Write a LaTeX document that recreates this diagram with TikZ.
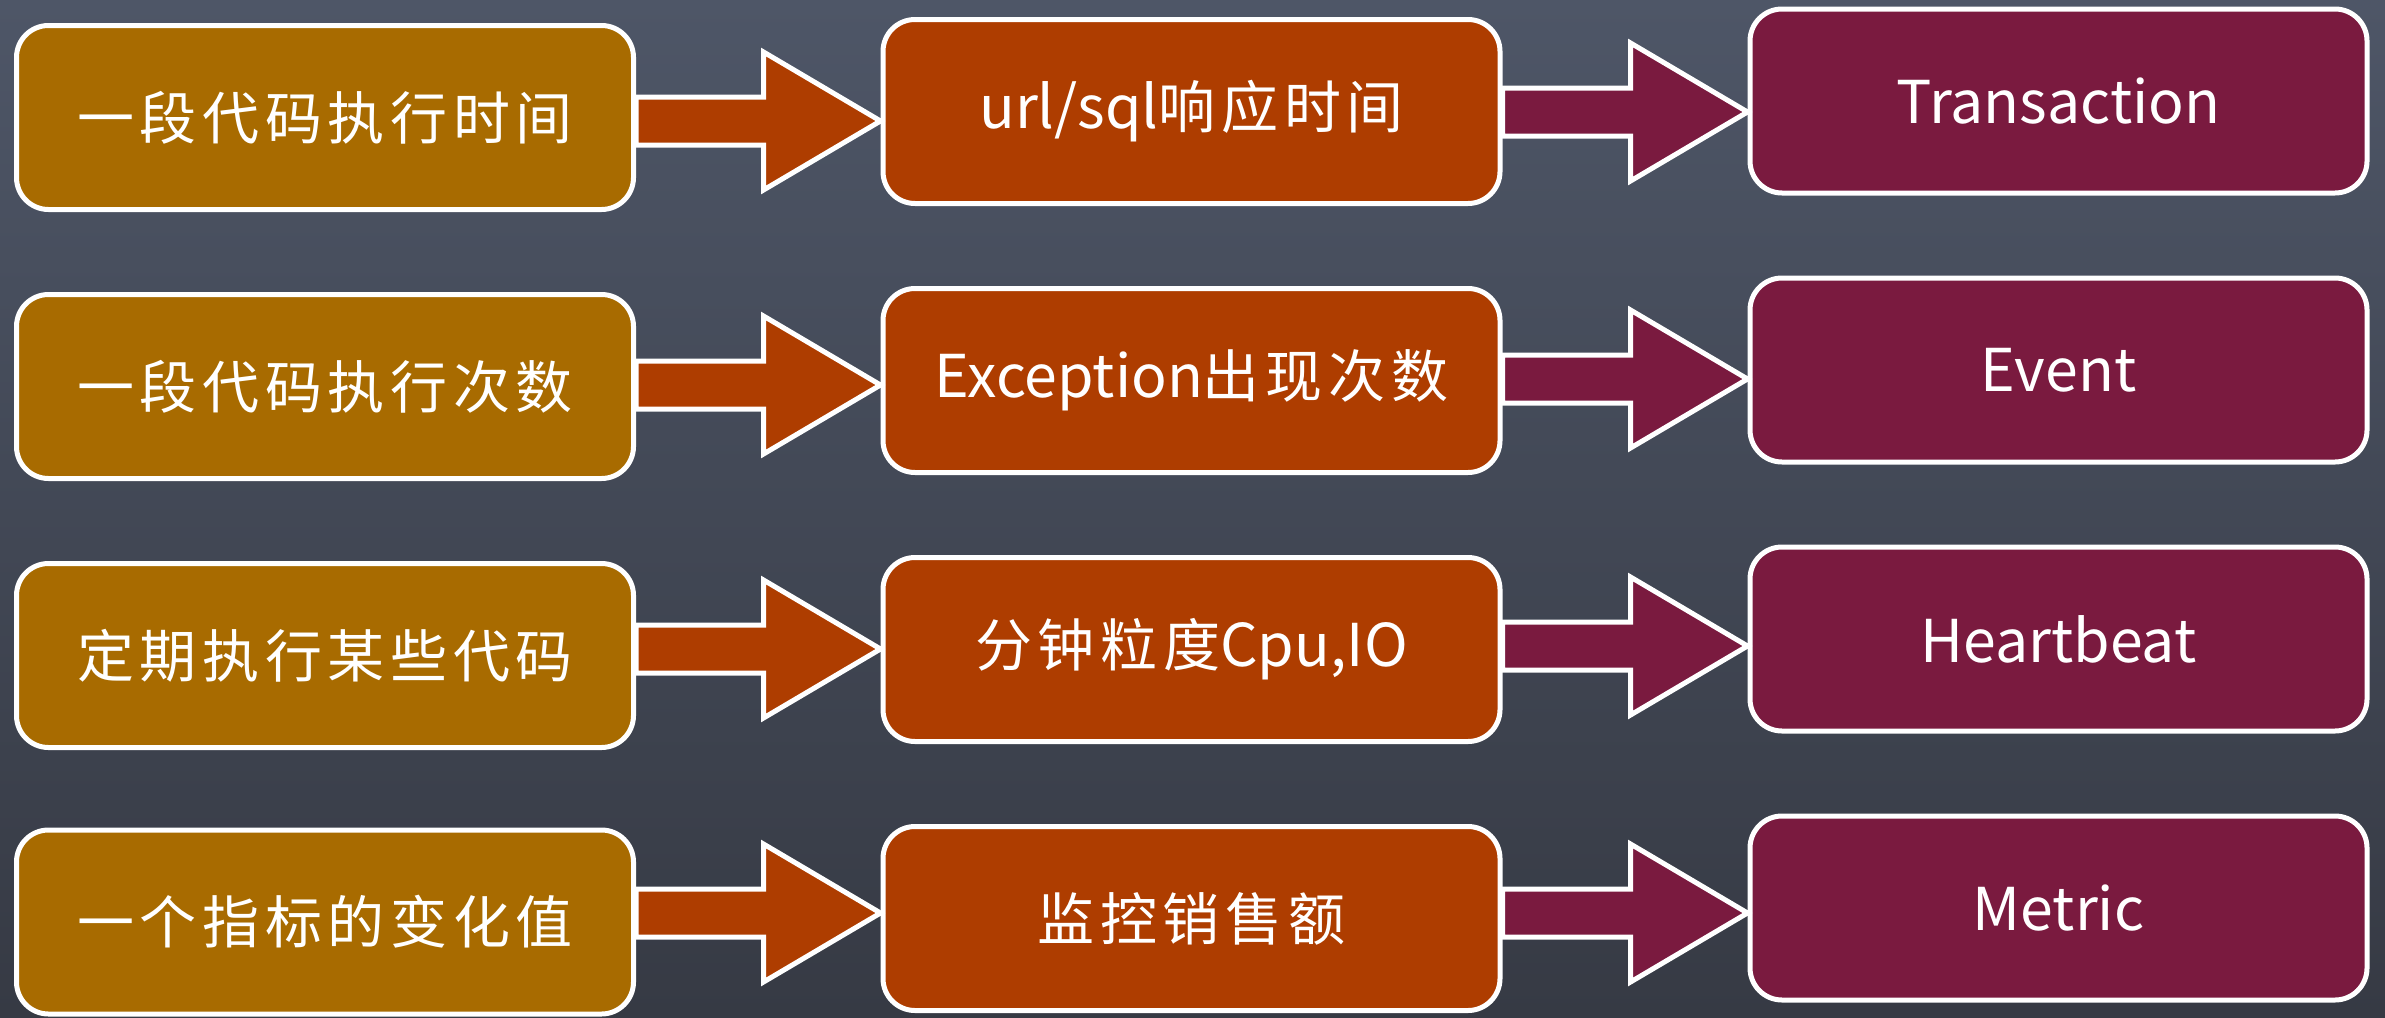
\documentclass[tikz,border=0pt]{standalone}
\usepackage{fontspec}
\setmainfont{Noto Sans CJK SC}
\usetikzlibrary{calc}
\definecolor{bgtop}{HTML}{4E5667}
\definecolor{bgmid}{HTML}{474E5D}
\definecolor{bgbot}{HTML}{363A44}
\definecolor{colA}{HTML}{A86B00}
\definecolor{colB}{HTML}{AE3D00}
\definecolor{colC}{HTML}{7A1A3F}
\newcommand\zh[1]{{\fontsize{28.5}{32}\selectfont\addfontfeature{LetterSpace=10}#1}}
\newcommand\blockarrow[4]{%
  \draw[arr, fill=#4] ($(#1.east |- #3)+(0,-24)$) -- ($(#2.west |- #3)+(-117,-24)$) -- ++(0,-45)
    -- (#2.west |- #3) -- ($(#2.west |- #3)+(-117,69)$) -- ++(0,-45)
    -- ($(#1.east |- #3)+(0,24)$) -- cycle;}
\begin{document}
\begin{tikzpicture}[x=0.5pt,y=-0.5pt,
  box/.style={draw=white, line width=2.5pt, rounded corners=16pt,
    minimum width=308.5pt, minimum height=92pt, inner sep=0pt,
    text=white, font=\fontsize{29.5}{32}\selectfont},
  arr/.style={draw=white, line width=2.5pt, line join=miter}]
\useasboundingbox (0,0) rectangle (2385,1017);
\shade[top color=bgtop, middle color=bgmid, bottom color=bgbot] (0,0) rectangle (2385,1017);

% column 1
\node[box, fill=colA] (a1) at (325,117.5) {\zh{一段代码执行时间}};
\node[box, fill=colA] (a2) at (325,386.5) {\zh{一段代码执行次数}};
\node[box, fill=colA] (a3) at (325,655.5) {\zh{定期执行某些代码}};
\node[box, fill=colA] (a4) at (325,922) {\zh{一个指标的变化值}};
% column 2
\node[box, fill=colB] (b1) at (1191.5,111.5) {url/sql\zh{响应时间}};
\node[box, fill=colB] (b2) at (1191.5,380.5) {Exception\zh{出现次数}};
\node[box, fill=colB] (b3) at (1191.5,649.5) {\zh{分钟粒度}Cpu,IO};
\node[box, fill=colB] (b4) at (1191.5,918.5) {\zh{监控销售额}};
% column 3
\node[box, fill=colC] (c1) at (2058.5,101) {Transaction};
\node[box, fill=colC] (c2) at (2058.5,370) {Event};
\node[box, fill=colC] (c3) at (2058.5,639) {Heartbeat};
\node[box, fill=colC] (c4) at (2058.5,908) {Metric};

% arrow mid lines
\coordinate (p1) at (0,121);
\coordinate (p2) at (0,385);
\coordinate (p3) at (0,649);
\coordinate (p4) at (0,913);
\coordinate (q1) at (0,112);
\coordinate (q2) at (0,379);
\coordinate (q3) at (0,646);
\coordinate (q4) at (0,913);

\blockarrow{a1}{b1}{p1}{colB}
\blockarrow{a2}{b2}{p2}{colB}
\blockarrow{a3}{b3}{p3}{colB}
\blockarrow{a4}{b4}{p4}{colB}
\blockarrow{b1}{c1}{q1}{colC}
\blockarrow{b2}{c2}{q2}{colC}
\blockarrow{b3}{c3}{q3}{colC}
\blockarrow{b4}{c4}{q4}{colC}
\end{tikzpicture}
\end{document}
